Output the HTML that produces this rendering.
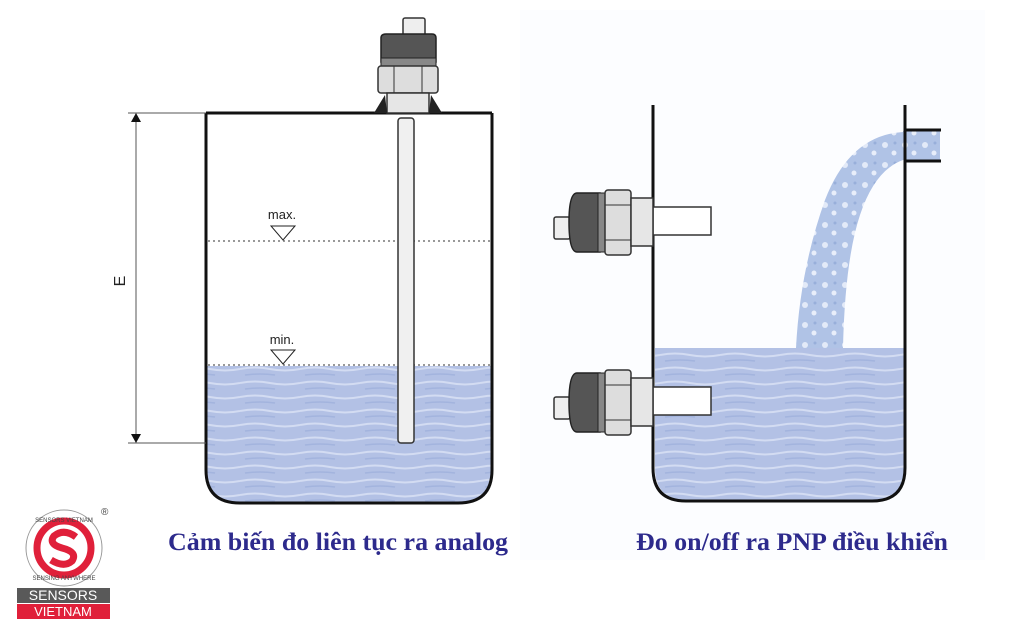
<!DOCTYPE html>
<html><head><meta charset="utf-8"><style>
html,body{margin:0;padding:0;background:#fff;width:1014px;height:624px;overflow:hidden}
svg{display:block}
</style></head><body>
<svg width="1014" height="624" viewBox="0 0 1014 624" xmlns="http://www.w3.org/2000/svg">
<defs>
<pattern id="wave" width="60" height="14" patternUnits="userSpaceOnUse"><rect width="60" height="14" fill="#b3c1e5"/><path d="M0 5 Q15 2 30 5 T60 5" stroke="#d3dcf2" stroke-width="2" fill="none"/><path d="M5 11 Q20 9 35 11" stroke="#a3b4de" stroke-width="1.5" fill="none"/></pattern>
<pattern id="foam" width="20" height="20" patternUnits="userSpaceOnUse"><rect width="20" height="20" fill="#b0c3e6"/><circle cx="5" cy="5" r="3" fill="#e3eaf8"/><circle cx="14" cy="13" r="2.5" fill="#e8eefa"/><circle cx="15" cy="3" r="1.5" fill="#98afda"/></pattern>
</defs>
<rect x="520" y="10" width="465" height="550" fill="#fcfdff"/>
<!-- LEFT TANK -->
<path d="M207 366 H491 V470 Q491 503 458 503 H240 Q207 503 207 470 Z" fill="url(#wave)"/>
<path d="M206 113 V470 Q206 503 240 503 H458 Q492 503 492 470 V113" fill="none" stroke="#111" stroke-width="3"/>
<line x1="206" y1="113" x2="492" y2="113" stroke="#111" stroke-width="3"/>
<line x1="208" y1="241" x2="490" y2="241" stroke="#333" stroke-width="1" stroke-dasharray="2,3"/>
<line x1="208" y1="365" x2="490" y2="365" stroke="#333" stroke-width="1" stroke-dasharray="2,3"/>
<text x="282" y="219" font-family="Liberation Sans,sans-serif" font-size="13" text-anchor="middle" fill="#222">max.</text>
<path d="M271 226 H295 L283 240 Z" fill="#fff" stroke="#222"/>
<text x="282" y="344" font-family="Liberation Sans,sans-serif" font-size="13" text-anchor="middle" fill="#222">min.</text>
<path d="M271 350 H295 L283 364 Z" fill="#fff" stroke="#222"/>
<!-- dimension -->
<line x1="128" y1="113" x2="206" y2="113" stroke="#555"/>
<line x1="128" y1="443" x2="206" y2="443" stroke="#555"/>
<line x1="136" y1="115" x2="136" y2="441" stroke="#555"/>
<path d="M131 122 L136 113 L141 122 Z M131 434 L136 443 L141 434 Z" fill="#111"/>
<text transform="translate(125,281) rotate(-90)" font-family="Liberation Sans,sans-serif" font-size="16" text-anchor="middle" fill="#222">E</text>
<!-- probe -->
<rect x="398" y="118" width="16" height="325" rx="3" fill="#f0f0f0" stroke="#333" stroke-width="1.5"/>
<rect x="403" y="18" width="22" height="18" rx="2" fill="#eee" stroke="#333" stroke-width="1.5"/>
<path d="M381 38 Q381 34 386 34 H432 Q436 34 436 38 V62 H381 Z" fill="#555" stroke="#222" stroke-width="1.5"/>
<rect x="381" y="58" width="55" height="8" fill="#888" stroke="#222"/>
<rect x="378" y="66" width="60" height="27" rx="3" fill="#ddd" stroke="#333" stroke-width="1.5"/>
<line x1="394" y1="66" x2="394" y2="93" stroke="#333"/><line x1="422" y1="66" x2="422" y2="93" stroke="#333"/>
<rect x="387" y="93" width="42" height="20" fill="#e6e6e6" stroke="#333" stroke-width="1.5"/>
<path d="M385 95 L374 113 H387 Z M431 95 L442 113 H429 Z" fill="#222"/>
<!-- RIGHT TANK -->
<path d="M655 348 H904 V468 Q904 500 872 500 H687 Q655 500 655 468 Z" fill="url(#wave)"/>
<path d="M903 132 Q850 135 825 200 Q800 270 796 348 H843 Q845 260 860 215 Q875 170 903 160 Z" fill="url(#foam)"/>
<rect x="903" y="131" width="37" height="29" fill="url(#foam)"/>
<path d="M653 105 V468 Q653 501 686 501 H872 Q905 501 905 468 V105" fill="none" stroke="#111" stroke-width="3"/>
<path d="M905 130 H941 M905 161 H941" stroke="#111" stroke-width="3"/>
<g id="s1">
<rect x="653" y="207" width="58" height="28" fill="#fff" stroke="#333" stroke-width="1.5"/>
<rect x="554" y="217" width="16" height="22" rx="2" fill="#eee" stroke="#333" stroke-width="1.5"/>
<path d="M577 193 H600 V252 H577 Q569 252 569 222 Q569 193 577 193 Z" fill="#555" stroke="#222" stroke-width="1.5"/>
<rect x="598" y="193" width="7" height="59" fill="#888" stroke="#222"/>
<rect x="605" y="190" width="26" height="65" rx="3" fill="#ddd" stroke="#333" stroke-width="1.5"/>
<line x1="605" y1="205" x2="631" y2="205" stroke="#333"/><line x1="605" y1="240" x2="631" y2="240" stroke="#333"/>
<rect x="631" y="198" width="22" height="48" fill="#e6e6e6" stroke="#333" stroke-width="1.5"/>
</g>
<use href="#s1" transform="translate(0,180)"/>
<!-- captions -->
<text x="338" y="550" font-family="Liberation Serif,serif" font-weight="bold" font-size="25" text-anchor="middle" textLength="340" lengthAdjust="spacingAndGlyphs" fill="#2d2a8c">Cảm biến đo liên tục ra analog</text>
<text x="792" y="550" font-family="Liberation Serif,serif" font-weight="bold" font-size="25" text-anchor="middle" textLength="312" lengthAdjust="spacingAndGlyphs" fill="#2d2a8c">Đo on/off ra PNP điều khiển</text>
<!-- logo -->
<circle cx="64" cy="548" r="38" fill="#fff" stroke="#999" stroke-width="1"/>
<circle cx="64" cy="548" r="27" fill="none" stroke="#e0203a" stroke-width="7"/>
<path d="M76 537 Q64 528 54 536 Q48 544 62 548 Q78 552 72 561 Q64 568 51 560" fill="none" stroke="#e0203a" stroke-width="7"/>
<text x="64" y="522" font-family="Liberation Sans,sans-serif" font-size="6" text-anchor="middle" fill="#444">SENSORS VIETNAM</text>
<text x="64" y="580" font-family="Liberation Sans,sans-serif" font-size="6" text-anchor="middle" fill="#444">SENSING ANYWHERE</text>
<text x="101" y="515" font-family="Liberation Sans,sans-serif" font-size="10" fill="#444">®</text>
<rect x="17" y="588" width="93" height="15" fill="#595959"/>
<text x="63" y="600" font-family="Liberation Sans,sans-serif" font-size="14" text-anchor="middle" fill="#fff">SENSORS</text>
<rect x="17" y="604" width="93" height="15" fill="#e0203a"/>
<text x="63" y="616" font-family="Liberation Sans,sans-serif" font-size="13" text-anchor="middle" fill="#fff">VIETNAM</text>
</svg>
</body></html>
